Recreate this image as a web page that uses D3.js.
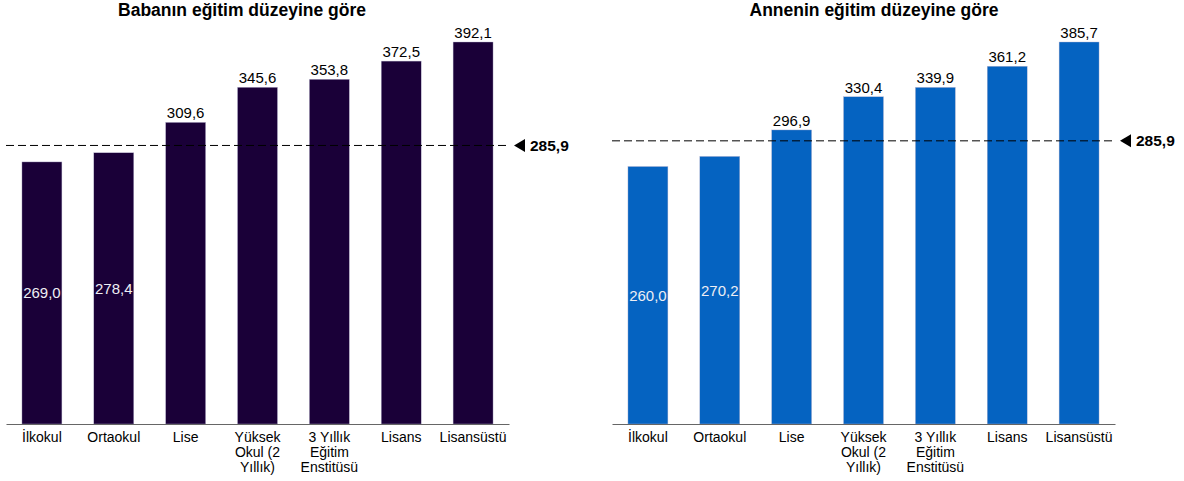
<!DOCTYPE html>
<html><head><meta charset="utf-8">
<script src="https://cdn.jsdelivr.net/npm/d3@7"></script>
<style>body{margin:0;background:#fff}svg{display:block;font-family:"Liberation Sans",Arial,sans-serif}</style>
</head><body><svg id="c" width="1184" height="481"></svg>
<script>
const categories = ["İlkokul","Ortaokul","Lise","Yüksek Okul (2 Yıllık)","3 Yıllık Eğitim Enstitüsü","Lisans","Lisansüstü"];
const categoryLines = [["İlkokul"],["Ortaokul"],["Lise"],["Yüksek","Okul (2","Yıllık)"],["3 Yıllık","Eğitim","Enstitüsü"],["Lisans"],["Lisansüstü"]];
const fatherValues = [269.0,278.4,309.6,345.6,353.8,372.5,392.1];
const motherValues = [260.0,270.2,296.9,330.4,339.9,361.2,385.7];
const average = 285.9;
const titles = ["Babanın eğitim düzeyine göre","Annenin eğitim düzeyine göre"];
const insideCount = 2;

const svg = d3.select("#c");
const fmt = v => v.toFixed(1).replace(".", ",");

function panel(x0, x1, values, color, title, titleX){
  const g = svg.append("g");
  const x = d3.scaleBand().domain(categories).range([x0, x1]).paddingInner(0.444).paddingOuter(0.222);
  const y = d3.scaleLinear().domain([0, d3.max(values)]).range([424, 42]);
  g.append("text").attr("x", titleX).attr("y", 16).attr("text-anchor","middle")
    .attr("font-size", 17.5).attr("font-weight","bold").attr("fill","#000").text(title);
  g.selectAll("rect.bar").data(values).join("rect").attr("class","bar")
    .attr("x",(d,i)=>x(categories[i])).attr("width",x.bandwidth())
    .attr("y",d=>y(d)).attr("height",d=>y(0)-y(d))
    .attr("fill",color).attr("stroke","#b8b4d0").attr("stroke-width",0.4);
  g.selectAll("text.val").data(values).join("text").attr("class","val")
    .attr("x",(d,i)=>x(categories[i])+x.bandwidth()/2)
    .attr("y",(d,i)=> i<insideCount ? (y(d)+y(0))/2+5.5 : y(d)-4)
    .attr("text-anchor","middle").attr("font-size",15)
    .attr("fill",(d,i)=> i<insideCount ? "#eeeef4" : "#000")
    .text(fmt);
  const ax = g.append("g").attr("transform",`translate(0,${y(0)})`)
    .call(d3.axisBottom(x).tickSize(0).tickFormat(""));
  ax.select(".domain").attr("stroke","#666").attr("stroke-width",1.2);
  ax.selectAll(".tick").each(function(d,i){
    const t = d3.select(this).append("text").attr("fill","#000").attr("font-size",14)
      .attr("text-anchor","middle").attr("y",18);
    categoryLines[i].forEach((l,j)=>t.append("tspan").attr("x",0).attr("dy", j===0?0:15).text(l));
  });
  const ya = y(average);
  g.append("line").attr("x1",x0).attr("x2",x1).attr("y1",ya).attr("y2",ya)
    .attr("stroke","#000").attr("stroke-width",1).attr("stroke-dasharray","8,4");
  g.append("path").attr("d",`M${x1+5},${ya}L${x1+16},${ya-6.5}L${x1+16},${ya+6.5}Z`).attr("fill","#000");
  g.append("text").attr("x",x1+21).attr("y",ya+5.5).attr("font-size",15.5).attr("font-weight","bold").text(fmt(average));
}
panel(6, 509, fatherValues, "#1a0038", titles[0], 242);
panel(612, 1115, motherValues, "#0563c1", titles[1], 874);
</script></body></html>
